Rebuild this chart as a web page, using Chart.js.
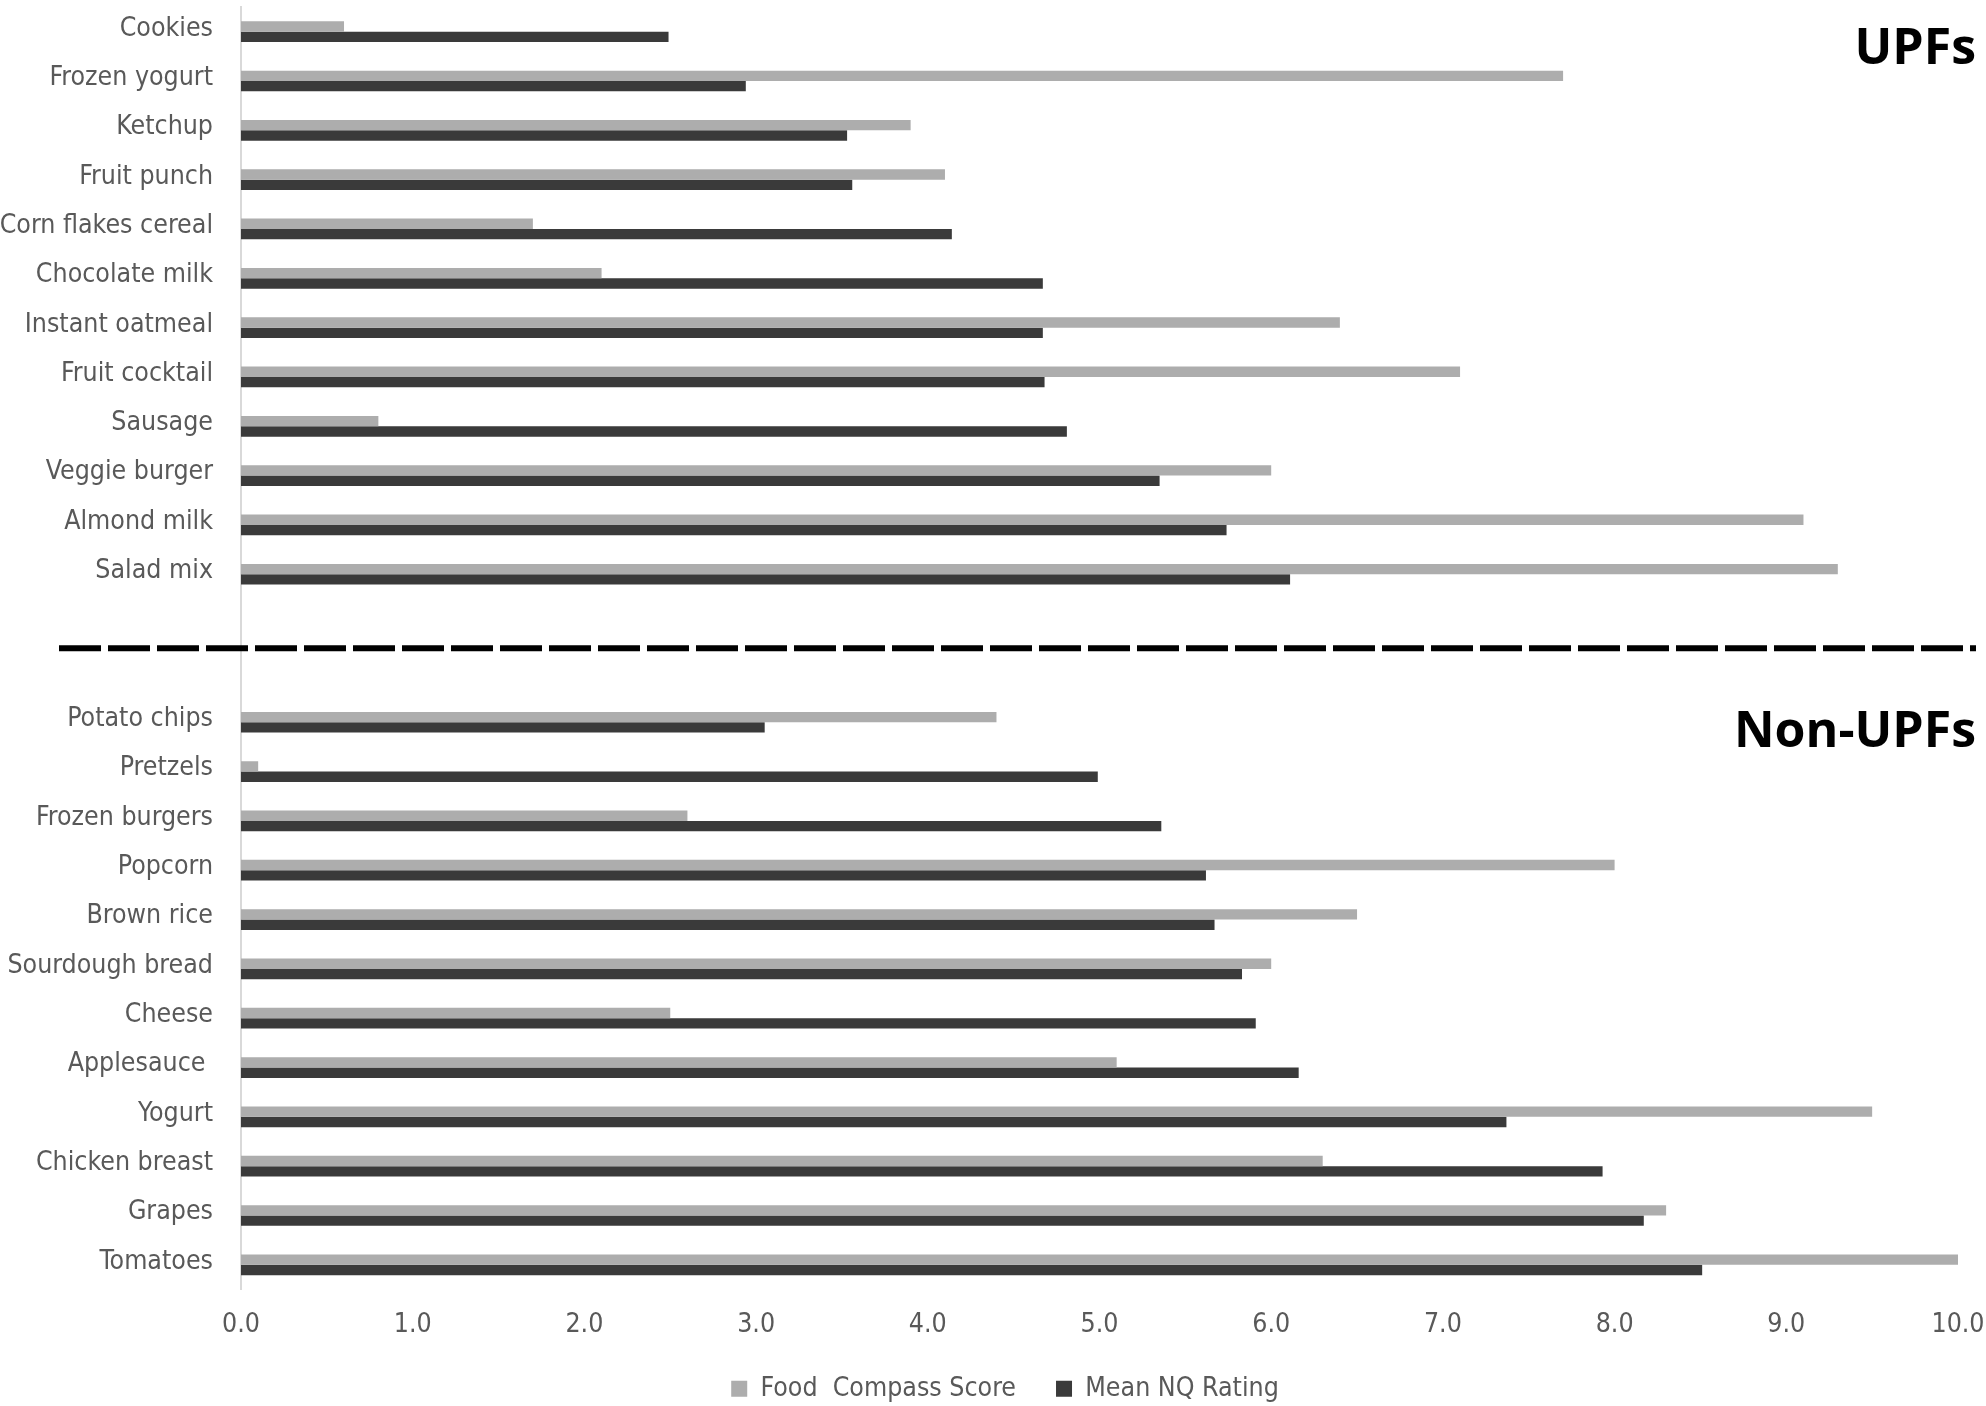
<!DOCTYPE html>
<html>
<head>
<meta charset="utf-8">
<script src="https://cdn.jsdelivr.net/npm/chart.js@4/dist/chart.umd.min.js"></script>
<style>
  html, body { margin: 0; padding: 0; background: #fff; }
  #wrap { width: 1986px; height: 1406px; }
</style>
</head>
<body>
<div id="wrap"><canvas id="graph"></canvas></div>
<script>
// UPFs group (top) and Non-UPFs group (bottom), in the order shown
const upfFoods = ['Cookies', 'Frozen yogurt', 'Ketchup', 'Fruit punch', 'Corn flakes cereal', 'Chocolate milk',
    'Instant oatmeal', 'Fruit cocktail', 'Sausage', 'Veggie burger', 'Almond milk', 'Salad mix'];
const upfCompass = [0.6, 7.7, 3.9, 4.1, 1.7, 2.1, 6.4, 7.1, 0.8, 6.0, 9.1, 9.3];
const upfNQ = [2.49, 2.94, 3.53, 3.56, 4.14, 4.67, 4.67, 4.68, 4.81, 5.35, 5.74, 6.11];

const nonUpfFoods = ['Potato chips', 'Pretzels', 'Frozen burgers', 'Popcorn', 'Brown rice', 'Sourdough bread',
    'Cheese', 'Applesauce ', 'Yogurt', 'Chicken breast', 'Grapes', 'Tomatoes'];
const nonUpfCompass = [4.4, 0.1, 2.6, 8.0, 6.5, 6.0, 2.5, 5.1, 9.5, 6.3, 8.3, 10.0];
const nonUpfNQ = [3.05, 4.99, 5.36, 5.62, 5.67, 5.83, 5.91, 6.16, 7.37, 7.93, 8.17, 8.51];

const xTicks = ['0.0', '1.0', '2.0', '3.0', '4.0', '5.0', '6.0', '7.0', '8.0', '9.0', '10.0'];
const seriesNames = ['Food  Compass Score', 'Mean NQ Rating'];
const groupTitles = ['UPFs', 'Non-UPFs'];

// two empty rows leave room for the divider
const gap = ['', ''];
const labels = [...upfFoods, ...gap, ...nonUpfFoods];
const compass = [...upfCompass, null, null, ...nonUpfCompass];
const nq = [...upfNQ, null, null, ...nonUpfNQ];

const font = "'Liberation Sans Narrow', 'DejaVu Sans Condensed', sans-serif";
const textGrey = '#595959';

// dashed divider and the two group titles
const dividerPlugin = {
    id: 'divider',
    afterLayout(chart) {
        // legend sits a little right of the canvas centre
        chart.legend.left += 26;
        chart.legend.right += 26;
    },
    afterDraw(chart) {
        const ctx = chart.ctx;
        const y = chart.scales.y;
        const right = chart.width - 10;
        const lineY = y.getPixelForValue(upfFoods.length + 0.5);
        ctx.save();
        ctx.strokeStyle = '#000';
        ctx.lineWidth = 6;
        ctx.setLineDash([42, 7]);
        ctx.beginPath();
        ctx.moveTo(59, lineY);
        ctx.lineTo(right, lineY);
        ctx.stroke();
        ctx.setLineDash([]);
        ctx.fillStyle = '#000';
        ctx.font = "bold 50px 'Open Sans', sans-serif";
        ctx.textAlign = 'right';
        ctx.textBaseline = 'middle';
        ctx.fillText(groupTitles[0], right, y.getPixelForValue(0) + 18);
        ctx.fillText(groupTitles[1], right, y.getPixelForValue(upfFoods.length + gap.length) + 11);
        ctx.restore();
    }
};

new Chart(document.getElementById('graph').getContext('2d'), {
    type: 'bar',
    data: {
        labels: labels,
        datasets: [
            {
                label: seriesNames[0],
                data: compass,
                backgroundColor: '#adadad',
                borderWidth: 0,
                barPercentage: 1,
                categoryPercentage: 0.42
            },
            {
                label: seriesNames[1],
                data: nq,
                backgroundColor: '#3a3a3a',
                borderWidth: 0,
                barPercentage: 1,
                categoryPercentage: 0.42
            }
        ]
    },
    options: {
        indexAxis: 'y',
        responsive: true,
        maintainAspectRatio: false,
        animation: false,
        layout: { padding: { left: 0, right: 28, top: 7, bottom: -6 } },
        plugins: {
            legend: {
                position: 'bottom',
                labels: {
                    boxWidth: 16,
                    boxHeight: 16,
                    padding: 40,
                    color: textGrey,
                    font: { family: font, size: 26.5 }
                }
            },
            tooltip: { enabled: false }
        },
        scales: {
            x: {
                min: 0,
                max: 10,
                grid: { display: false, drawTicks: false },
                border: { display: false },
                ticks: {
                    stepSize: 1,
                    padding: 20,
                    color: textGrey,
                    font: { family: font, size: 26.5 },
                    callback: (v, i) => xTicks[i]
                },
                afterFit: s => {
                    s.height = 46;
                    s.paddingLeft = 0;
                    s.paddingRight = 0;
                }
            },
            y: {
                grid: { display: false, drawTicks: false },
                border: { display: true, color: '#d9d9d9', width: 2 },
                ticks: {
                    padding: 28,
                    labelOffset: -3,
                    color: textGrey,
                    font: { family: font, size: 26.5 },
                    autoSkip: false
                },
                afterFit: s => {
                    s.width = 241;
                    s.paddingTop = 0;
                    s.paddingBottom = 0;
                }
            }
        }
    },
    plugins: [dividerPlugin]
});
</script>
</body>
</html>
